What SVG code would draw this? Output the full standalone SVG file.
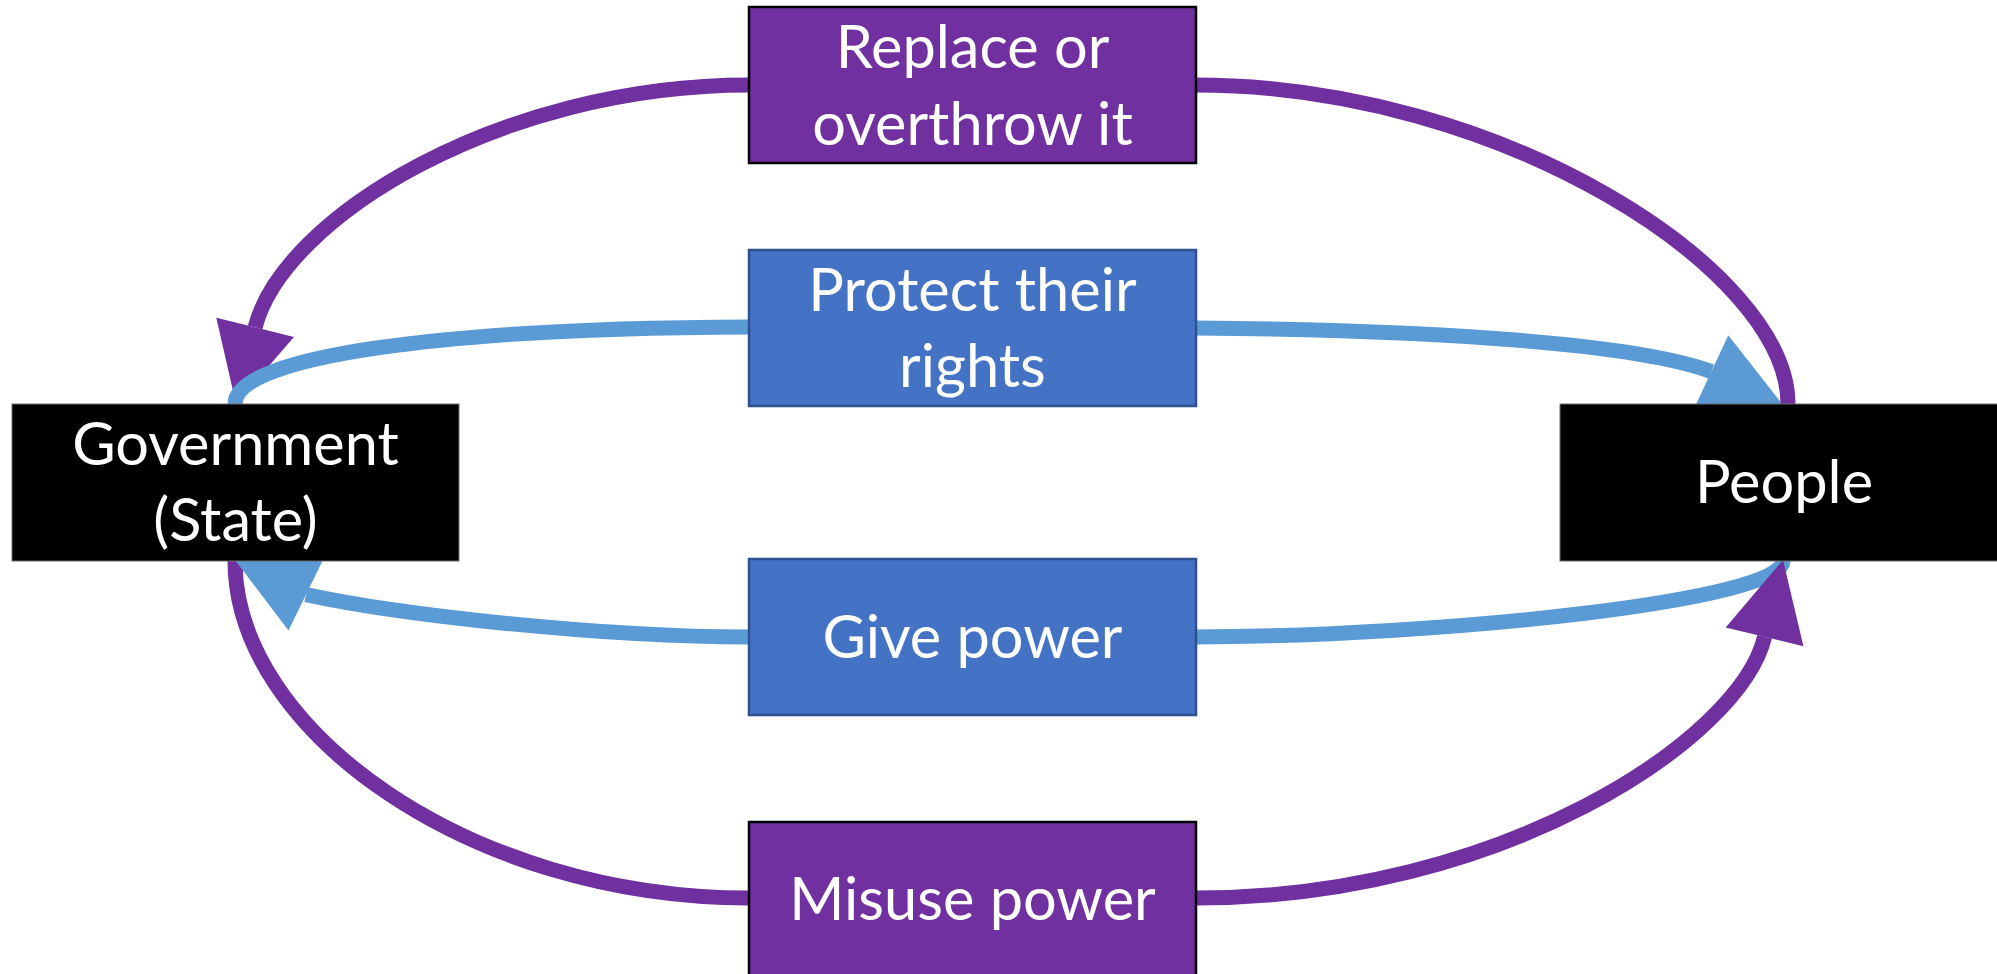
<svg xmlns="http://www.w3.org/2000/svg" xmlns:xlink="http://www.w3.org/1999/xlink" width="1997" height="974" viewBox="0 0 1997 974">
  <style>
    .bg { fill: #ffffff; }
    .conn { fill: none; stroke-width: 15; stroke-linecap: butt; }
    .c-purple { stroke: #7030A0; }
    .c-blue { stroke: #5B9BD5; }
    .ah-purple { fill: #7030A0; }
    .ah-blue { fill: #5B9BD5; }
    .box-purple { fill: #7030A0; stroke: #000000; stroke-width: 2.5; }
    .box-blue { fill: #4472C4; stroke: #2F528F; stroke-width: 2.5; }
    .box-black { fill: #000000; stroke: #6f6f6f; stroke-width: 1; }
    .label { fill: #ffffff; font-family: Lato, "Liberation Sans", sans-serif; font-size: 59.5px; text-anchor: middle; }
  </style>
  <defs>
    <path id="ah" d="M0,0 L-79,-40 L-79,40 Z"/>
  </defs>
  <rect class="bg" x="0" y="0" width="1997" height="974"/>

  <g id="connectors">
    <path class="conn c-purple" d="M749,85 C500,85 283,218 255.1,327.3"/>
    <use xlink:href="#ah" class="ah-purple" transform="translate(236,404) rotate(104)"/>
    <path class="conn c-blue" d="M749,327 C450,328 235,355 235,404"/>
    <path class="conn c-blue" d="M1196,328 C1450,330 1640,345 1711.4,371.6"/>
    <use xlink:href="#ah" class="ah-blue" transform="translate(1783,405) rotate(25)"/>
    <path class="conn c-purple" d="M1196,85 C1500,85 1788,270 1788,404"/>
    <path class="conn c-blue" d="M1196,637 C1450,636 1783,600 1783,561"/>
    <path class="conn c-purple" d="M1196,898 C1500,898 1740,740 1764.6,636.8"/>
    <use xlink:href="#ah" class="ah-purple" transform="translate(1783,560) rotate(-76.5)"/>
    <path class="conn c-purple" d="M235,561 C235,730 470,898 749,898"/>
    <path class="conn c-blue" d="M749,637 C600,637 400,615 306,594.6"/>
    <use xlink:href="#ah" class="ah-blue" transform="translate(235,560) rotate(206)"/>
  </g>

  <g id="node-government">
    <rect class="box-black" x="12" y="404" width="447" height="157"/>
    <text class="label" x="235.5" y="465">Government</text>
    <text class="label" x="235.5" y="541">(State)</text>
  </g>
  <g id="node-people">
    <rect class="box-black" x="1560" y="404" width="447" height="157"/>
    <text class="label" x="1784" y="503">People</text>
  </g>
  <g id="node-replace">
    <rect class="box-purple" x="749" y="7" width="447" height="156"/>
    <text class="label" x="972.5" y="68">Replace or</text>
    <text class="label" x="972.5" y="145">overthrow it</text>
  </g>
  <g id="node-protect">
    <rect class="box-blue" x="749" y="250" width="447" height="156"/>
    <text class="label" x="972.5" y="311">Protect their</text>
    <text class="label" x="972.5" y="387">rights</text>
  </g>
  <g id="node-give">
    <rect class="box-blue" x="749" y="559" width="447" height="156"/>
    <text class="label" x="972.5" y="658">Give power</text>
  </g>
  <g id="node-misuse">
    <rect class="box-purple" x="749" y="822" width="447" height="160"/>
    <text class="label" x="972.5" y="920">Misuse power</text>
  </g>
</svg>
